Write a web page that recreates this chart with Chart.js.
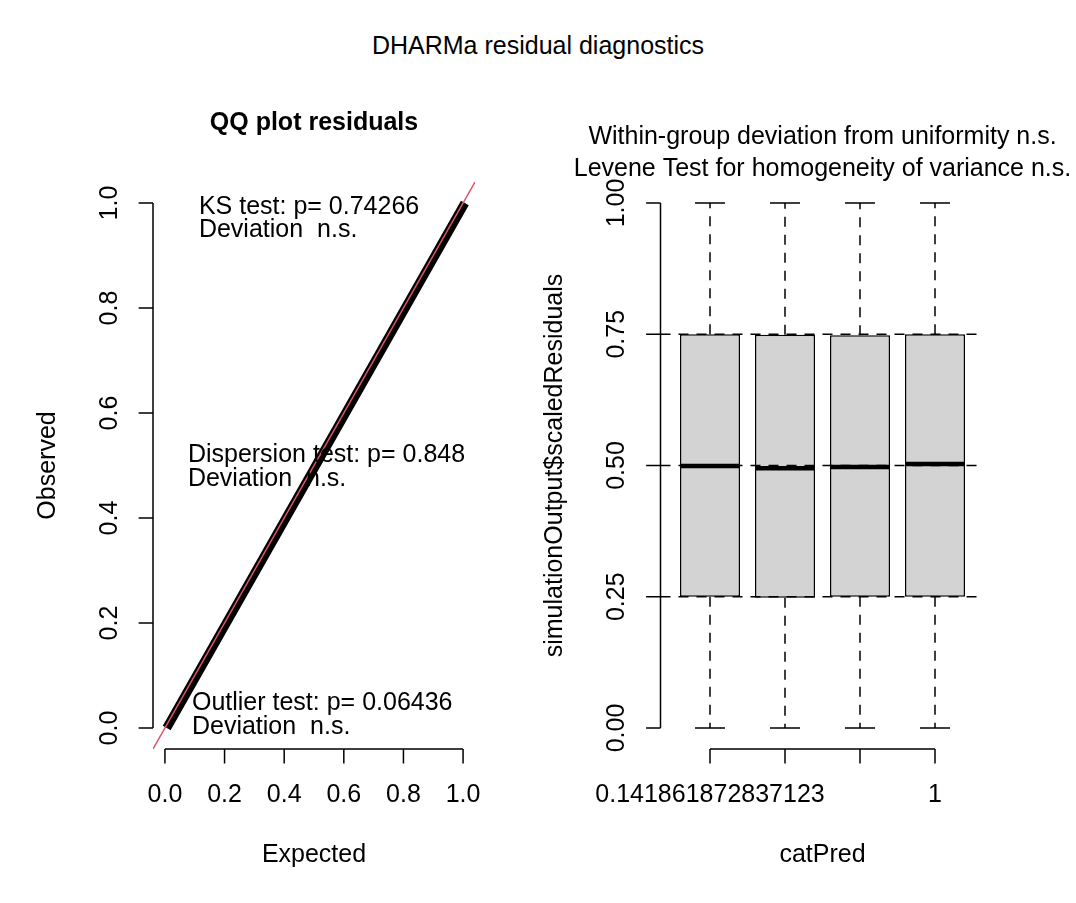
<!DOCTYPE html>
<html>
<head>
<meta charset="utf-8">
<title>DHARMa residual diagnostics</title>
<script src="https://cdn.jsdelivr.net/npm/chart.js@4.4.1/dist/chart.umd.min.js"></script>
<style>
  html, body { margin: 0; padding: 0; background: #fff; }
  #page { position: relative; width: 1076px; height: 903px; overflow: hidden; }
  #mainTitle {
    position: absolute; left: 0; top: 33px; width: 1076px;
    text-align: center; color: #000;
    font: 25px 'Liberation Sans', Arial, Helvetica, sans-serif; line-height: 25px;
  }
  canvas { position: absolute; top: 0; }
  #qqChart { left: 0; }
  #boxChart { left: 538px; }
</style>
</head>
<body>
<div id="page">
  <div id="mainTitle">DHARMa residual diagnostics</div>
  <canvas id="qqChart" width="538" height="903" style="width:538px;height:903px"></canvas>
  <canvas id="boxChart" width="538" height="903" style="width:538px;height:903px"></canvas>
</div>
<script>
// ---- QQ panel data
const qqExpected = [0.006, 0.256, 0.506, 0.756, 1.006];
const qqObserved = [0, 0.25, 0.5, 0.75, 1];
const qqTicks = [0, 0.2, 0.4, 0.6, 0.8, 1];
const qqTickLabels = ['0.0', '0.2', '0.4', '0.6', '0.8', '1.0'];
const qqLimits = [-0.04, 1.04];
const ablineIntercept = 0;
const ablineSlope = 1;
const qqNotes = [
    ['KS test: p= 0.74266', 'Deviation  n.s.'],
    ['Dispersion test: p= 0.848', 'Deviation  n.s.'],
    ['Outlier test: p= 0.06436', 'Deviation  n.s.']
];

// ---- boxplot panel data
const catPositions = [1, 2, 3, 4];
const catTickLabels = ['0.141861872837123', '', '', '1'];
const boxMin = [0, 0, 0, 0];
const boxQ1 = [0.25, 0.248, 0.25, 0.25];
const boxMedian = [0.499, 0.495, 0.497, 0.503];
const boxQ3 = [0.75, 0.749, 0.748, 0.75];
const boxMax = [1, 1, 1, 1];
const boxTicks = [0, 0.25, 0.5, 0.75, 1];
const boxTickLabels = ['0.00', '0.25', '0.50', '0.75', '1.00'];
const refLines = [0.25, 0.5, 0.75];
const boxXLimits = [0.34, 4.66];
const boxYLimits = [-0.04, 1.04];

// ---- layout / style
const FONT = "'Liberation Sans', Arial, Helvetica, sans-serif";
const FONT_SIZE = 25;
const TICK_LEN = 14.4;
const LABEL_GAP = 46;    // axis line -> tick label centre
const TITLE_GAP = 105;   // axis line -> axis title centre
const LINE_W = 1.5;
const DASH = [10, 8];
const notePos = [[0.114, 0.993], [0.077, 0.519], [0.0906, 0.0467]];
const NOTE_STEP = 23.5;

function setFont(ctx, bold) {
    ctx.font = (bold ? 'bold ' : '') + FONT_SIZE + 'px ' + FONT;
    ctx.fillStyle = '#000';
}

// R-style axis: line only between first and last tick, ticks outside
function drawBottomAxis(chart, values, labels, title) {
    const ctx = chart.ctx;
    const xs = chart.scales.x;
    const y0 = chart.chartArea.bottom;
    const px = values.map(v => xs.getPixelForValue(v));
    ctx.save();
    ctx.strokeStyle = '#000';
    ctx.lineWidth = LINE_W;
    ctx.beginPath();
    ctx.moveTo(px[0], y0);
    ctx.lineTo(px[px.length - 1], y0);
    px.forEach(p => { ctx.moveTo(p, y0); ctx.lineTo(p, y0 + TICK_LEN); });
    ctx.stroke();
    setFont(ctx, false);
    ctx.textAlign = 'center';
    ctx.textBaseline = 'middle';
    labels.forEach((l, i) => ctx.fillText(l, px[i], y0 + LABEL_GAP));
    const a = chart.chartArea;
    ctx.fillText(title, (a.left + a.right) / 2, y0 + TITLE_GAP + 1);
    ctx.restore();
}

function drawLeftAxis(chart, values, labels, title) {
    const ctx = chart.ctx;
    const ys = chart.scales.y;
    const x0 = chart.chartArea.left;
    const py = values.map(v => ys.getPixelForValue(v));
    ctx.save();
    ctx.strokeStyle = '#000';
    ctx.lineWidth = LINE_W;
    ctx.beginPath();
    ctx.moveTo(x0, py[0]);
    ctx.lineTo(x0, py[py.length - 1]);
    py.forEach(p => { ctx.moveTo(x0, p); ctx.lineTo(x0 - TICK_LEN, p); });
    ctx.stroke();
    setFont(ctx, false);
    ctx.textAlign = 'center';
    ctx.textBaseline = 'middle';
    labels.forEach((l, i) => {
        ctx.save();
        ctx.translate(x0 - LABEL_GAP + 3, py[i]);
        ctx.rotate(-Math.PI / 2);
        ctx.fillText(l, 0, 0);
        ctx.restore();
    });
    const a = chart.chartArea;
    ctx.save();
    ctx.translate(x0 - TITLE_GAP, (a.top + a.bottom) / 2);
    ctx.rotate(-Math.PI / 2);
    ctx.fillText(title, 0, 0);
    ctx.restore();
    ctx.restore();
}

// QQ panel extras: axes, title, test results
const qqDecor = {
    id: 'qqDecor',
    afterDraw(chart) {
        const ctx = chart.ctx;
        const a = chart.chartArea;
        drawBottomAxis(chart, qqTicks, qqTickLabels, 'Expected');
        drawLeftAxis(chart, qqTicks, qqTickLabels, 'Observed');
        ctx.save();
        setFont(ctx, true);
        ctx.textAlign = 'center';
        ctx.textBaseline = 'middle';
        ctx.fillText('QQ plot residuals', (a.left + a.right) / 2, 123);
        setFont(ctx, false);
        ctx.textAlign = 'left';
        qqNotes.forEach((lines, i) => {
            const x = chart.scales.x.getPixelForValue(notePos[i][0]);
            const y = chart.scales.y.getPixelForValue(notePos[i][1]);
            lines.forEach((t, j) => ctx.fillText(t, x, y + j * NOTE_STEP));
        });
        ctx.restore();
    }
};

// boxplot extras: whiskers, medians, reference lines, axes, titles
const boxDecor = {
    id: 'boxDecor',
    afterDraw(chart) {
        const ctx = chart.ctx;
        const a = chart.chartArea;
        const xs = chart.scales.x;
        const ys = chart.scales.y;
        const bar = chart.getDatasetMeta(0).data;
        ctx.save();
        ctx.strokeStyle = '#000';
        catPositions.forEach((c, i) => {
            const cx = xs.getPixelForValue(c);
            const half = bar[i] ? bar[i].width / 2 : 30;
            // whiskers
            ctx.lineWidth = LINE_W;
            ctx.setLineDash(DASH);
            ctx.beginPath();
            ctx.moveTo(cx, ys.getPixelForValue(boxQ3[i]));
            ctx.lineTo(cx, ys.getPixelForValue(boxMax[i]));
            ctx.moveTo(cx, ys.getPixelForValue(boxQ1[i]));
            ctx.lineTo(cx, ys.getPixelForValue(boxMin[i]));
            ctx.stroke();
            // caps
            ctx.setLineDash([]);
            ctx.beginPath();
            [boxMax[i], boxMin[i]].forEach(v => {
                const y = ys.getPixelForValue(v);
                ctx.moveTo(cx - half / 2, y);
                ctx.lineTo(cx + half / 2, y);
            });
            ctx.stroke();
            // median
            ctx.lineWidth = 4.5;
            ctx.beginPath();
            const my = ys.getPixelForValue(boxMedian[i]);
            ctx.moveTo(cx - half, my);
            ctx.lineTo(cx + half, my);
            ctx.stroke();
        });
        // dashed horizontal reference lines
        ctx.lineWidth = LINE_W;
        ctx.setLineDash(DASH);
        ctx.beginPath();
        refLines.forEach(v => {
            const y = ys.getPixelForValue(v);
            ctx.moveTo(a.left, y);
            ctx.lineTo(a.right, y);
        });
        ctx.stroke();
        ctx.setLineDash([]);
        ctx.restore();

        drawBottomAxis(chart, catPositions, catTickLabels, 'catPred');
        drawLeftAxis(chart, boxTicks, boxTickLabels, 'simulationOutput$scaledResiduals');

        ctx.save();
        setFont(ctx, false);
        ctx.textAlign = 'center';
        ctx.textBaseline = 'middle';
        const mx = (a.left + a.right) / 2;
        ctx.fillText('Within-group deviation from uniformity n.s.', mx, 137);
        ctx.fillText('Levene Test for homogeneity of variance n.s.', mx, 169);
        ctx.restore();
    }
};

document.addEventListener('DOMContentLoaded', function() {
    // QQ plot
    new Chart(document.getElementById('qqChart'), {
        type: 'scatter',
        data: {
            datasets: [{
                data: qqExpected.map((x, i) => ({ x: x, y: qqObserved[i] })),
                showLine: true,
                borderColor: '#000',
                borderWidth: 9,
                borderCapStyle: 'butt',
                pointRadius: 0,
                order: 1
            }, {
                data: qqLimits.map(x => ({ x: x, y: ablineIntercept + ablineSlope * x })),
                showLine: true,
                borderColor: '#DF536B',
                borderWidth: 1.5,
                pointRadius: 0,
                order: 0
            }]
        },
        options: {
            responsive: false,
            animation: false,
            layout: { padding: { left: 153, right: 63, top: 182, bottom: 154 } },
            plugins: { legend: { display: false }, tooltip: { enabled: false } },
            scales: {
                x: { type: 'linear', display: false, min: qqLimits[0], max: qqLimits[1] },
                y: { type: 'linear', display: false, min: qqLimits[0], max: qqLimits[1] }
            }
        },
        plugins: [qqDecor]
    });

    // boxplot by group
    new Chart(document.getElementById('boxChart'), {
        type: 'bar',
        data: {
            datasets: [{
                data: catPositions.map((x, i) => ({ x: x, y: [boxQ1[i], boxQ3[i]] })),
                backgroundColor: '#D3D3D3',
                borderColor: '#000',
                borderWidth: 1.5,
                borderSkipped: false,
                barPercentage: 0.8,
                categoryPercentage: 1
            }]
        },
        options: {
            responsive: false,
            animation: false,
            layout: { padding: { left: 122.5, right: 91.5, top: 182, bottom: 154 } },
            plugins: { legend: { display: false }, tooltip: { enabled: false } },
            scales: {
                x: {
                    type: 'linear', display: false, offset: false, grid: { offset: false },
                    min: boxXLimits[0], max: boxXLimits[1],
                    afterBuildTicks: axis => { axis.ticks = catPositions.map(v => ({ value: v })); }
                },
                y: { type: 'linear', display: false, min: boxYLimits[0], max: boxYLimits[1] }
            }
        },
        plugins: [boxDecor]
    });
});
</script>
</body>
</html>
